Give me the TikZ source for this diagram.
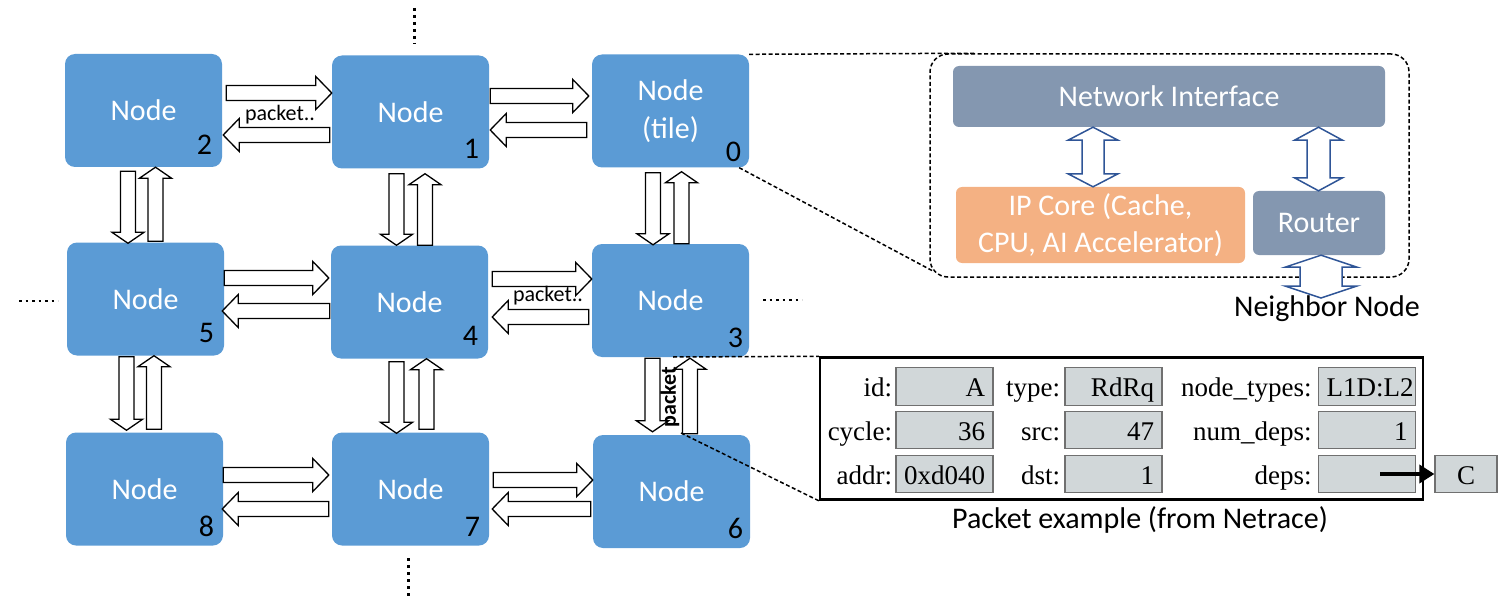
\documentclass[tikz,border=0pt]{standalone}
\usepackage{fontspec}
\setmainfont{Carlito}
\newfontfamily\cellfont{Liberation Serif}
\usetikzlibrary{calc,arrows.meta}

\definecolor{meshblue}{HTML}{5B9BD5}
\definecolor{slate}{HTML}{8497B0}
\definecolor{coreorange}{HTML}{F4B183}
\definecolor{linkblue}{HTML}{2F5597}
\definecolor{cellgray}{HTML}{D1D7D9}
\definecolor{cellline}{HTML}{707070}

% hollow block arrow from #2 to #3: shaft half width #4, head half width #5, head length #6
\newcommand\fatarrow[6][]{%
  \draw[#1] let \p1=(#2), \p2=(#3),
    \n1={atan2(\y2-\y1,\x2-\x1)}, \n2={veclen(\x2-\x1,\y2-\y1)} in
    [shift={(\p1)}, rotate=\n1]
    (0pt,-#4pt) -- ({\n2-#6pt},-#4pt) -- ({\n2-#6pt},-#5pt) -- (\n2,0pt)
    -- ({\n2-#6pt},#5pt) -- ({\n2-#6pt},#4pt) -- (0pt,#4pt) -- cycle;}

% hollow block arrow with a head at both ends
\newcommand\dblarrow[6][]{%
  \draw[#1] let \p1=(#2), \p2=(#3),
    \n1={atan2(\y2-\y1,\x2-\x1)}, \n2={veclen(\x2-\x1,\y2-\y1)} in
    [shift={(\p1)}, rotate=\n1]
    (#6pt,-#4pt) -- ({\n2-#6pt},-#4pt) -- ({\n2-#6pt},-#5pt) -- (\n2,0pt)
    -- ({\n2-#6pt},#5pt) -- ({\n2-#6pt},#4pt) -- (#6pt,#4pt) -- (#6pt,#5pt)
    -- (0pt,0pt) -- (#6pt,-#5pt) -- cycle;}

\newcommand\hlink[2]{\fatarrow[link]{#1}{#2}{7.5}{16.5}{16}}
\newcommand\vlink[2]{\fatarrow[link]{#1}{#2}{7.5}{16}{11}}
\newcommand\meshidx[4]{\node[idx] (i#2) at ([xshift=#3pt,yshift=#4pt]n#2.south east) {#2};}

\begin{document}
\begin{tikzpicture}[x=1pt,y=-1pt,
  mesh/.style={fill=meshblue, rounded corners=10pt, minimum width=157pt,
    minimum height=113pt, inner sep=0pt, text=white, align=center,
    font=\fontsize{30}{38}\selectfont},
  idx/.style={anchor=base east, inner sep=0pt, font=\fontsize{30}{36}\selectfont},
  link/.style={draw=black, fill=white, line width=1.3pt},
  bilink/.style={draw=linkblue, fill=white, line width=1.5pt},
  tag/.style={inner sep=0pt, font=\fontsize{22}{26}\selectfont},
  unit/.style={fill=slate, rounded corners=6pt, inner sep=0pt, text=white,
    align=center, font=\fontsize{30}{37}\selectfont},
  zoomline/.style={dash pattern=on 4pt off 2.5pt, line width=1.5pt},
  frame/.style={draw, dash pattern=on 4pt off 2.5pt, line width=1.5pt,
    rounded corners=18pt, inner sep=0pt},
  field/.style={draw=cellline, fill=cellgray, line width=1.2pt,
    minimum width=97pt, minimum height=37.5pt, inner xsep=8pt, inner ysep=0pt,
    text width=81pt, align=right, text height=24pt, text depth=4pt,
    font=\cellfont\fontsize{27}{30}\selectfont},
  fieldname/.style={anchor=east, inner sep=0pt, text height=24pt, text depth=4pt,
    font=\cellfont\fontsize{27}{30}\selectfont},
  ellipsis/.style={line width=3pt, dash pattern=on 3pt off 4pt},
  hellipsis/.style={line width=2.5pt, dash pattern=on 2.5pt off 4pt}]

\useasboundingbox (0,0) rectangle (1506,596);

% ---------------- 3x3 mesh ----------------
\node[mesh] (n2) at (143.5,110.5) {Node};
\node[mesh] (n1) at (410.5,112) {Node};
\node[mesh] (n0) at (670.5,111) {Node\\(tile)};
\node[mesh] (n5) at (145.5,299) {Node};
\node[mesh] (n4) at (409.5,302) {Node};
\node[mesh] (n3) at (670.5,300.5) {Node};
\node[mesh] (n8) at (144.5,489) {Node};
\node[mesh] (n7) at (410.5,489) {Node};
\node[mesh] (n6) at (671.5,491.5) {Node};

\meshidx{n2}{2}{-10}{13}
\meshidx{n1}{1}{-10}{10}
\meshidx{n0}{0}{-8}{6}
\meshidx{n5}{5}{-10}{13}
\meshidx{n4}{4}{-10}{13}
\meshidx{n3}{3}{-6}{10}
\meshidx{n8}{8}{-9}{9}
\meshidx{n7}{7}{-9}{9}
\meshidx{n6}{6}{-7}{10}

% horizontal links
\hlink{$(n2.east|-0,93)+(4,0)$}{$(n1.west|-0,93)$}
\hlink{$(n1.west|-0,135)+(-2,0)$}{$(n2.east|-0,135)+(1,0)$}
\hlink{$(n1.east|-0,96)+(1,0)$}{$(n0.west|-0,96)+(-3,0)$}
\hlink{$(n0.west|-0,130)+(-5,0)$}{$(n1.east|-0,130)+(1,0)$}
\hlink{$(n5.east|-0,278)$}{$(n4.west|-0,278)+(-2,0)$}
\hlink{$(n4.west|-0,311)+(-1,0)$}{$(n5.east|-0,311)+(-2,0)$}
\hlink{$(n4.east|-0,279)+(4,0)$}{$(n3.west|-0,279)$}
\hlink{$(n3.west|-0,317)+(-3,0)$}{$(n4.east|-0,317)+(4,0)$}
\hlink{$(n8.east|-0,475)$}{$(n7.west|-0,475)+(-3,0)$}
\hlink{$(n7.west|-0,509)+(-3,0)$}{$(n8.east|-0,509)+(-1,0)$}
\hlink{$(n7.east|-0,480)+(4,0)$}{$(n6.west|-0,480)$}
\hlink{$(n6.west|-0,509)+(-2,0)$}{$(n7.east|-0,509)+(3,0)$}

% vertical links
\vlink{$(n2.south-|128,0)+(0,4)$}{$(n5.north-|128,0)+(0,1)$}
\vlink{$(n5.north-|155.5,0)+(0,-1)$}{$(n2.south-|155.5,0)$}
\vlink{$(n1.south-|396.5,0)+(0,5)$}{$(n4.north-|396.5,0)$}
\vlink{$(n4.north-|425,0)$}{$(n1.south-|425,0)+(0,5)$}
\vlink{$(n0.south-|653,0)+(0,5)$}{$(n3.north-|653,0)+(0,1)$}
\vlink{$(n3.north-|681.5,0)$}{$(n0.south-|681.5,0)+(0,4)$}
\vlink{$(n5.south-|126.5,0)+(0,1)$}{$(n8.north-|126.5,0)+(0,-2)$}
\vlink{$(n8.north-|154,0)+(0,-3)$}{$(n5.south-|154,0)$}
\vlink{$(n4.south-|396.5,0)+(0,3)$}{$(n7.north-|396.5,0)+(0,1)$}
\vlink{$(n7.north-|426.5,0)+(0,-3)$}{$(n4.south-|426.5,0)$}
\vlink{$(n3.south-|652.5,0)+(0,1)$}{$(n6.north-|652.5,0)+(0,-3)$}
\vlink{$(n6.north-|690,0)+(0,-1)$}{$(n3.south-|690,0)+(0,1)$}

% packet labels on links
\node[tag] (pl1) at (280,115) {packet..};
\node[tag] (pl2) at (548,296) {packet..};
\node[tag, rotate=90, font=\bfseries\fontsize{22}{26}\selectfont] (pl3) at (670,397) {packet};

% the mesh continues
\draw[ellipsis] (414,8) -- (414,44);
\draw[ellipsis] (408,558) -- (408,596);
\draw[hellipsis] (19,301) -- (58,301);
\draw[hellipsis] (763,300) -- (802,300);

% ---------------- tile internals ----------------
\node[frame, minimum width=479pt, minimum height=223pt] (tile) at (1169.5,165.5) {};
\node[unit, minimum width=432pt, minimum height=61pt] (ni) at (1169,96.5) {Network Interface};
\node[unit, fill=coreorange, minimum width=289pt, minimum height=76pt] (ip) at (1100.5,225)
  {IP Core (Cache,\\CPU, AI Accelerator)};
\node[unit, minimum width=132pt, minimum height=64pt] (rt) at (1319,223) {Router};
\node[inner sep=0pt, font=\fontsize{30}{36}\selectfont] (nb) at (1327,309) {Neighbor Node};
\coordinate (nbtop) at (1321,298);

\dblarrow[bilink]{$(ni.south-|1093,0)$}{$(ip.north-|1093,0)$}{11}{25}{13}
\dblarrow[bilink]{$(ni.south-|1318.5,0)$}{$(rt.north-|1318.5,0)$}{11.5}{24}{13}
\dblarrow[bilink]{$(rt.south-|1321,0)$}{nbtop}{21}{36}{12}

\draw[zoomline] (n0.north east) -- ($(tile.north west)+(45,0)$);
\draw[zoomline] ($(n0.south east)+(-10,0)$) -- ($(tile.south west)+(5,-6)$);

% ---------------- packet example ----------------
\node[draw, line width=2.5pt, minimum width=603pt, minimum height=142pt, inner sep=0pt]
  (pk) at (1121.5,428.5) {};

\node[field] (v11) at (944.5,386.5) {A};
\node[field] (v12) at (1113.5,386.5) {RdRq};
\node[field] (v13) at (1367,386.5) {L1D:L2};
\node[field] (v21) at (944.5,430) {36};
\node[field] (v22) at (1113.5,430) {47};
\node[field] (v23) at (1367,430) {1};
\node[field] (v31) at (944.5,474) {0xd040};
\node[field] (v32) at (1113.5,474) {1};
\node[field] (v33) at (1367,474) {};

\node[fieldname] (f11) at ([xshift=-3pt]v11.west) {id:};
\node[fieldname] (f12) at ([xshift=-4pt]v12.west) {type:};
\node[fieldname] (f13) at ([xshift=-6pt]v13.west) {node\_types:};
\node[fieldname] (f21) at ([xshift=-3pt]v21.west) {cycle:};
\node[fieldname] (f22) at ([xshift=-4pt]v22.west) {src:};
\node[fieldname] (f23) at ([xshift=-6pt]v23.west) {num\_deps:};
\node[fieldname] (f31) at ([xshift=-3pt]v31.west) {addr:};
\node[fieldname] (f32) at ([xshift=-4pt]v32.west) {dst:};
\node[fieldname] (f33) at ([xshift=-6pt]v33.west) {deps:};

\node[field, minimum width=62pt, text width=46pt, align=center] (dc) at (1466,474) {C};
\coordinate (depsrc) at ($(v33.center)+(13,0)$);
\draw[line width=3.5pt, -{Triangle[length=15pt,width=18pt]}] (depsrc) -- (dc.west);

\node[inner sep=0pt, font=\fontsize{30}{36}\selectfont] (cap) at (1140,520)
  {Packet example (from Netrace)};

\coordinate (zt) at (673,357);
\coordinate (zb) at (681,433);
\draw[zoomline] (zt) -- (pk.north west);
\draw[zoomline] (zb) -- (pk.south west);

\end{tikzpicture}
\end{document}
